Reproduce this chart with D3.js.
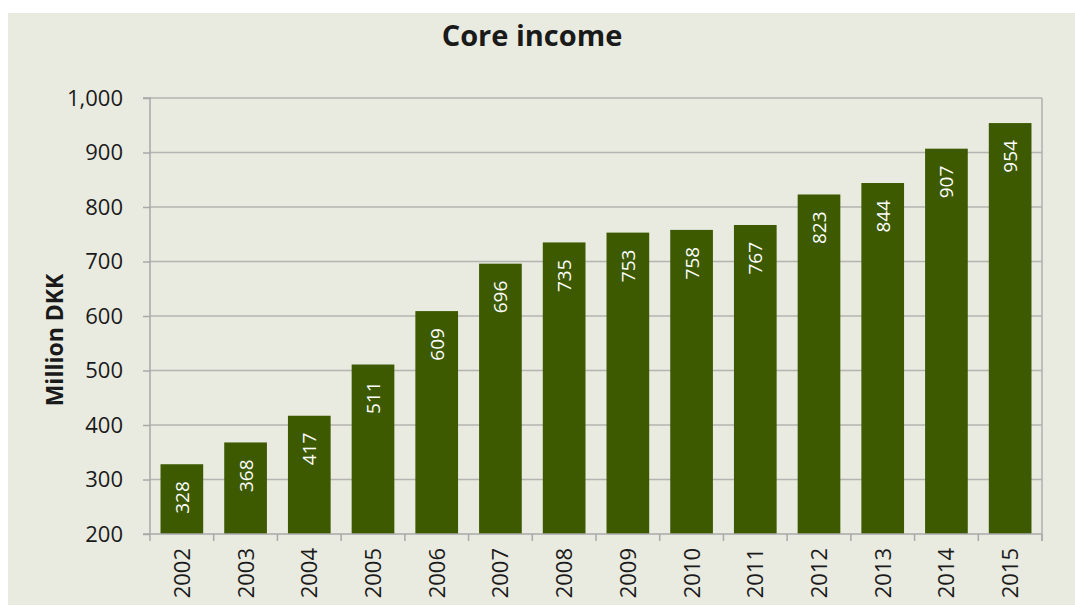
<!DOCTYPE html>
<html><head><meta charset="utf-8">
<script src="https://cdn.jsdelivr.net/npm/d3@7"></script>
<style>body{margin:0;background:#fff;}svg{display:block;}text{font-family:"Open Sans",sans-serif;}</style>
</head><body><svg id="c" width="1075" height="606"></svg>
<script>
const years = ["2002","2003","2004","2005","2006","2007","2008","2009","2010","2011","2012","2013","2014","2015"];
const values = [328,368,417,511,609,696,735,753,758,767,823,844,907,954];
const yTicks = [200,300,400,500,600,700,800,900,1000];
const title = "Core income";
const yTitle = "Million DKK";

const svg = d3.select("#c");
svg.append("rect").attr("x",8).attr("y",13).attr("width",1067).attr("height",592).attr("fill","#e9ebe1");
const m = {l:150, r:1042, t:98, b:534};
const x = d3.scaleBand().domain(years).range([m.l,m.r]).paddingInner(0.33).paddingOuter(0.165);
const y = d3.scaleLinear().domain([200,1000]).range([m.b,m.t]);

// grid
svg.append("g").selectAll("line").data(yTicks.slice(1)).join("line")
  .attr("x1",m.l).attr("x2",m.r).attr("y1",d=>y(d)).attr("y2",d=>y(d))
  .attr("stroke","#b4b4b0").attr("stroke-width",1.3);
// right border
svg.append("line").attr("x1",m.r).attr("x2",m.r).attr("y1",m.t).attr("y2",m.b+7).attr("stroke","#a8a8a8").attr("stroke-width",1.3);

// bars
svg.append("g").selectAll("rect").data(years).join("rect")
  .attr("x",d=>x(d)).attr("width",x.bandwidth())
  .attr("y",(d,i)=>y(values[i])).attr("height",(d,i)=>y(200)-y(values[i]))
  .attr("fill","#3d5a00");
svg.append("g").selectAll("text").data(years).join("text")
  .attr("transform",(d,i)=>`translate(${x(d)+x.bandwidth()/2+7},${y(values[i])+17}) rotate(-90)`)
  .attr("text-anchor","end").attr("fill","#fff").attr("font-size",19)
  .text((d,i)=>values[i]);

// y axis
const ya = d3.axisLeft(y).tickValues(yTicks).tickSize(7).tickPadding(20).tickFormat(d3.format(","));
const gy = svg.append("g").attr("transform",`translate(${m.l},0)`).call(ya);
gy.select(".domain").attr("stroke","#a8a8a8").attr("stroke-width",1.5).attr("d",`M-7,${m.t}H0V${m.b}`);
gy.selectAll(".tick line").attr("stroke","#a8a8a8").attr("stroke-width",1.5);
gy.selectAll(".tick text").attr("font-size",22).attr("fill","#1a1a1a").attr("font-family","'Open Sans',sans-serif");

// x axis
const boundaries = d3.range(years.length+1).map(i=>m.l + i*(m.r-m.l)/years.length);
svg.append("line").attr("x1",m.l-7).attr("x2",m.r).attr("y1",m.b).attr("y2",m.b).attr("stroke","#a8a8a8").attr("stroke-width",1.5);
svg.append("g").selectAll("line").data(boundaries).join("line")
  .attr("x1",d=>d).attr("x2",d=>d).attr("y1",m.b).attr("y2",m.b+7).attr("stroke","#a8a8a8").attr("stroke-width",1.5);
svg.append("g").selectAll("text").data(years).join("text")
  .attr("transform",d=>`translate(${x(d)+x.bandwidth()/2+8},${m.b+14}) rotate(-90)`)
  .attr("text-anchor","end").attr("font-size",22).attr("fill","#1a1a1a").text(d=>d);

// titles
svg.append("text").attr("x",532).attr("y",46).attr("text-anchor","middle").attr("font-size",29).attr("font-weight","bold").attr("fill","#1a1a1a").text(title);
svg.append("text").attr("transform",`translate(63,340) rotate(-90)`).attr("text-anchor","middle").attr("font-size",23).attr("font-weight","bold").attr("fill","#1a1a1a").text(yTitle);
</script></body></html>
